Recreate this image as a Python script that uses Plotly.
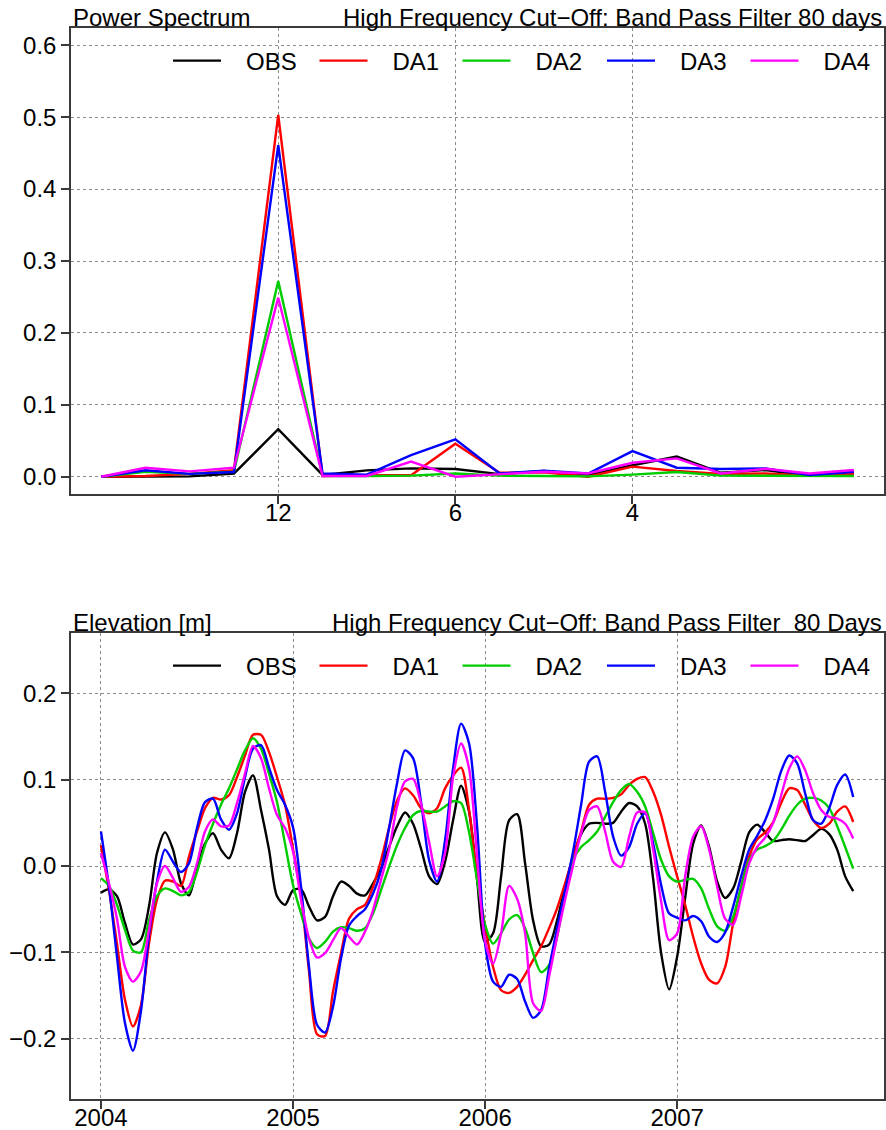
import plotly.graph_objects as go

# ---------------------------------------------------------------- data
series_names = ["OBS", "DA1", "DA2", "DA3", "DA4"]
series_colors = ["#000000", "#ff0000", "#00cd00", "#0000ff", "#ff00ff"]

# Power spectrum: frequency in cycles per year (48 monthly samples -> 0.25 cpy steps)
freq_cpy = [0.0, 0.25, 0.5, 0.75, 1.0, 1.25, 1.5, 1.75, 2.0,
            2.25, 2.5, 2.75, 3.0, 3.25, 3.5, 3.75, 4.0, 4.25]
period_tick_pos = [1.0, 2.0, 3.0]
period_tick_text = ["12", "6", "4"]

psd_obs = [0.0, 0.0005, 0.0005, 0.0045, 0.066, 0.0025, 0.0088, 0.0116, 0.0107,
           0.0037, 0.008, 0.0023, 0.016, 0.028, 0.0055, 0.0093, 0.0014, 0.0046]
psd_da1 = [0.0, 0.001, 0.004, 0.009, 0.503, 0.001, 0.002, 0.002, 0.046,
           0.0055, 0.006, 0.0, 0.014, 0.008, 0.0037, 0.0046, 0.0014, 0.0037]
psd_da2 = [0.0, 0.007, 0.004, 0.007, 0.272, 0.001, 0.001, 0.0015, 0.0045,
           0.0015, 0.001, 0.0005, 0.003, 0.0065, 0.0015, 0.001, 0.0005, 0.001]
psd_da3 = [0.0, 0.009, 0.004, 0.0065, 0.461, 0.0045, 0.003, 0.030, 0.052,
           0.0045, 0.0083, 0.0045, 0.0357, 0.0125, 0.0107, 0.0116, 0.0023, 0.007]
psd_da4 = [0.0, 0.0125, 0.0075, 0.0125, 0.249, 0.001, 0.001, 0.021, 0.0,
           0.003, 0.007, 0.0045, 0.0195, 0.0255, 0.0045, 0.011, 0.0046, 0.0093]

# Band-pass filtered elevation [m], half-monthly samples from 2004.0
time_yr = [2004 + i / 24 for i in range(95)]

elev_obs = [
    -0.031, -0.027, -0.035, -0.066, -0.091, -0.085, -0.047, 0.015, 0.039, 0.019,
    -0.020, -0.034, -0.002, 0.026, 0.038, 0.019, 0.009, 0.038, 0.086, 0.105,
    0.065, 0.019, -0.035, -0.045, -0.028, -0.027, -0.047, -0.063, -0.059, -0.035,
    -0.018, -0.023, -0.032, -0.034, -0.020, -0.003, 0.022, 0.046, 0.062, 0.049,
    0.020, -0.012, -0.021, 0.005, 0.053, 0.093, 0.063, -0.016, -0.088, -0.078,
    -0.012, 0.053, 0.060, 0.003, -0.063, -0.093, -0.091, -0.063, -0.024, 0.011,
    0.037, 0.049, 0.050, 0.049, 0.050, 0.063, 0.073, 0.069, 0.049, -0.015,
    -0.101, -0.143, -0.105, -0.037, 0.026, 0.047, 0.022, -0.018, -0.037, -0.026,
    0.005, 0.039, 0.048, 0.039, 0.029, 0.030, 0.031, 0.030, 0.029, 0.036,
    0.043, 0.037, 0.019, -0.012, -0.029]
elev_da1 = [
    0.024, -0.028, -0.090, -0.155, -0.186, -0.161, -0.090, -0.039, -0.017, -0.018,
    -0.023, 0.011, 0.040, 0.067, 0.079, 0.077, 0.082, 0.103, 0.128, 0.152,
    0.152, 0.132, 0.103, 0.071, 0.020, -0.035, -0.122, -0.195, -0.197, -0.145,
    -0.101, -0.061, -0.050, -0.045, -0.024, 0.007, 0.044, 0.076, 0.090, 0.082,
    0.067, 0.061, 0.067, 0.090, 0.105, 0.114, 0.065, -0.012, -0.070, -0.117,
    -0.144, -0.147, -0.140, -0.126, -0.109, -0.093, -0.072, -0.049, -0.020, 0.011,
    0.040, 0.071, 0.078, 0.078, 0.079, 0.083, 0.094, 0.101, 0.103, 0.086,
    0.059, 0.022, -0.012, -0.045, -0.082, -0.113, -0.132, -0.136, -0.117, -0.066,
    -0.024, 0.011, 0.031, 0.039, 0.051, 0.073, 0.090, 0.088, 0.071, 0.053,
    0.044, 0.049, 0.063, 0.069, 0.051]
elev_da2 = [
    -0.014, -0.023, -0.045, -0.074, -0.098, -0.100, -0.063, -0.035, -0.026, -0.029,
    -0.034, -0.030, -0.007, 0.024, 0.049, 0.071, 0.090, 0.112, 0.134, 0.148,
    0.136, 0.107, 0.074, 0.026, -0.022, -0.055, -0.084, -0.095, -0.088, -0.076,
    -0.071, -0.072, -0.075, -0.072, -0.055, -0.028, -0.001, 0.024, 0.044, 0.059,
    0.064, 0.063, 0.063, 0.069, 0.075, 0.073, 0.039, -0.016, -0.068, -0.090,
    -0.078, -0.062, -0.057, -0.072, -0.101, -0.123, -0.115, -0.082, -0.032, 0.007,
    0.022, 0.030, 0.040, 0.057, 0.074, 0.088, 0.095, 0.086, 0.069, 0.038,
    0.007, -0.012, -0.018, -0.016, -0.015, -0.026, -0.050, -0.070, -0.075, -0.059,
    -0.024, 0.007, 0.019, 0.023, 0.029, 0.042, 0.058, 0.071, 0.078, 0.079,
    0.076, 0.067, 0.046, 0.022, -0.003]
elev_da3 = [
    0.040, -0.024, -0.105, -0.182, -0.214, -0.168, -0.080, -0.018, 0.019, 0.005,
    -0.007, 0.003, 0.044, 0.074, 0.078, 0.054, 0.042, 0.061, 0.103, 0.136,
    0.140, 0.114, 0.088, 0.071, 0.045, -0.024, -0.117, -0.184, -0.193, -0.163,
    -0.107, -0.069, -0.058, -0.050, -0.032, -0.005, 0.044, 0.096, 0.134, 0.125,
    0.074, 0.007, -0.018, 0.030, 0.113, 0.165, 0.142, 0.046, -0.090, -0.134,
    -0.140, -0.126, -0.131, -0.157, -0.176, -0.167, -0.118, -0.072, -0.028, 0.017,
    0.071, 0.121, 0.127, 0.086, 0.034, 0.012, 0.022, 0.049, 0.061, 0.026,
    -0.022, -0.055, -0.060, -0.063, -0.058, -0.064, -0.082, -0.088, -0.077, -0.047,
    -0.012, 0.019, 0.035, 0.053, 0.078, 0.110, 0.128, 0.119, 0.084, 0.053,
    0.049, 0.067, 0.094, 0.106, 0.080]
elev_da4 = [
    0.015, -0.020, -0.061, -0.117, -0.134, -0.122, -0.074, -0.020, 0.000, -0.014,
    -0.030, -0.024, 0.003, 0.040, 0.054, 0.046, 0.047, 0.073, 0.107, 0.139,
    0.125, 0.090, 0.059, 0.044, 0.017, -0.039, -0.084, -0.106, -0.101, -0.086,
    -0.072, -0.082, -0.091, -0.076, -0.051, -0.016, 0.019, 0.069, 0.098, 0.101,
    0.072, 0.028, -0.012, 0.015, 0.103, 0.142, 0.113, 0.011, -0.087, -0.113,
    -0.078, -0.023, -0.038, -0.078, -0.159, -0.168, -0.128, -0.082, -0.039, 0.001,
    0.038, 0.065, 0.069, 0.040, 0.005, -0.001, 0.034, 0.062, 0.062, 0.019,
    -0.041, -0.086, -0.078, -0.012, 0.034, 0.046, 0.019, -0.024, -0.061, -0.068,
    -0.035, 0.003, 0.022, 0.033, 0.050, 0.082, 0.113, 0.127, 0.111, 0.084,
    0.065, 0.057, 0.055, 0.049, 0.032]

year_ticks = [2004, 2005, 2006, 2007]
psd_ticks = [0.0, 0.1, 0.2, 0.3, 0.4, 0.5, 0.6]
elev_ticks = [-0.2, -0.1, 0.0, 0.1, 0.2]
elev_tick_text = ["\u22120.2", "\u22120.1", "0.0", "0.1", "0.2"]

psd_series = [psd_obs, psd_da1, psd_da2, psd_da3, psd_da4]
elev_series = [elev_obs, elev_da1, elev_da2, elev_da3, elev_da4]

# ---------------------------------------------------------------- layout constants
FONT = "Liberation Sans, Arial, Helvetica, sans-serif"
W, H = 886, 1130
M_L, M_R, M_T, M_B = 71, 2, 28, 31
PW = W - M_L - M_R
PH = H - M_T - M_B
top_dom = [0.5649, 1.0]
bot_dom = [0.0, 0.4351]

# left edge (px) of each legend key, and vertical centre of each legend row
key_left_px = [168, 314.5, 457.5, 602, 745.5]
legend_row_px = {"top": 61, "bottom": 666}
KEY_PAD = "\u00a0\u00a0\u00a0"   # gap between key line and label


def px_to_paper_x(px):
    return (px - M_L) / PW


def px_to_paper_y(py):
    return (H - M_B - py) / PH


fig = go.Figure()
legend_layout = {}
n = len(series_names)

for panel, series, xa, ya, shape in (
        ("top", psd_series, "x", "y", "linear"),
        ("bottom", elev_series, "x2", "y2", "spline")):
    for i, (name, color, vals) in enumerate(zip(series_names, series_colors, series)):
        idx = i + 1 + (n if panel == "bottom" else 0)
        lg = "legend" if idx == 1 else f"legend{idx}"
        xs = freq_cpy if panel == "top" else time_yr
        line = dict(color=color, width=2.4)
        if shape == "spline":
            line.update(shape="spline", smoothing=0.8)
        fig.add_trace(go.Scatter(x=xs, y=vals, mode="lines", name=KEY_PAD + name,
                                 line=line, xaxis=xa, yaxis=ya, legend=lg,
                                 showlegend=True))
        legend_layout[lg] = dict(
            orientation="h", x=px_to_paper_x(key_left_px[i]),
            y=px_to_paper_y(legend_row_px[panel]),
            xanchor="left", yanchor="middle", bgcolor="rgba(0,0,0,0)",
            itemwidth=48, font=dict(size=24, family=FONT, color="black"))

axis_style = dict(
    showline=True, linecolor="#3a3a3a", linewidth=1.5, mirror=True,
    ticks="outside", ticklen=8, tickwidth=1.5, tickcolor="#3a3a3a",
    showgrid=True, gridcolor="#8c8c8c", gridwidth=1, griddash="dot",
    zeroline=False, automargin=False,
    tickfont=dict(size=24, color="black", family=FONT),
)
x_label_shift = dict(ticklabelstandoff=-12)

fig.update_layout(
    width=W, height=H, showlegend=True,
    margin=dict(l=M_L, r=M_R, t=M_T, b=M_B, autoexpand=False),
    paper_bgcolor="white", plot_bgcolor="white",
    font=dict(family=FONT, size=24, color="black"),
    xaxis=dict(axis_style, **x_label_shift, domain=[0, 1], range=[-0.17, 4.42],
               tickvals=period_tick_pos, ticktext=period_tick_text,
               anchor="y"),
    yaxis=dict(axis_style, domain=top_dom, range=[-0.024, 0.624],
               tickvals=psd_ticks, tickformat=".1f", anchor="x"),
    xaxis2=dict(axis_style, **x_label_shift, domain=[0, 1],
                range=[2003.844, 2008.077],
                tickvals=year_ticks, tickformat="d", anchor="y2"),
    yaxis2=dict(axis_style, domain=bot_dom, range=[-0.27, 0.27],
                tickvals=elev_ticks, ticktext=elev_tick_text, anchor="x2"),
    annotations=[
        dict(text="Power Spectrum", xref="paper", yref="paper",
             x=0, y=1, xanchor="left", yanchor="bottom", yshift=-5,
             showarrow=False, font=dict(size=24)),
        dict(text="High Frequency Cut\u2212Off: Band Pass Filter 80 days",
             xref="paper", yref="paper", x=1, y=1, xanchor="right",
             yanchor="bottom", yshift=-5, showarrow=False,
             font=dict(size=24)),
        dict(text="Elevation [m]", xref="paper", yref="paper",
             x=0, y=bot_dom[1], xanchor="left", yanchor="bottom", yshift=-5,
             showarrow=False, font=dict(size=24)),
        dict(text="High Frequency Cut\u2212Off: Band Pass Filter  80 Days",
             xref="paper", yref="paper", x=1, y=bot_dom[1], xanchor="right",
             yanchor="bottom", yshift=-5, showarrow=False,
             font=dict(size=24)),
    ],
)
fig.update_layout(**legend_layout)

fig.write_html("out.html")
